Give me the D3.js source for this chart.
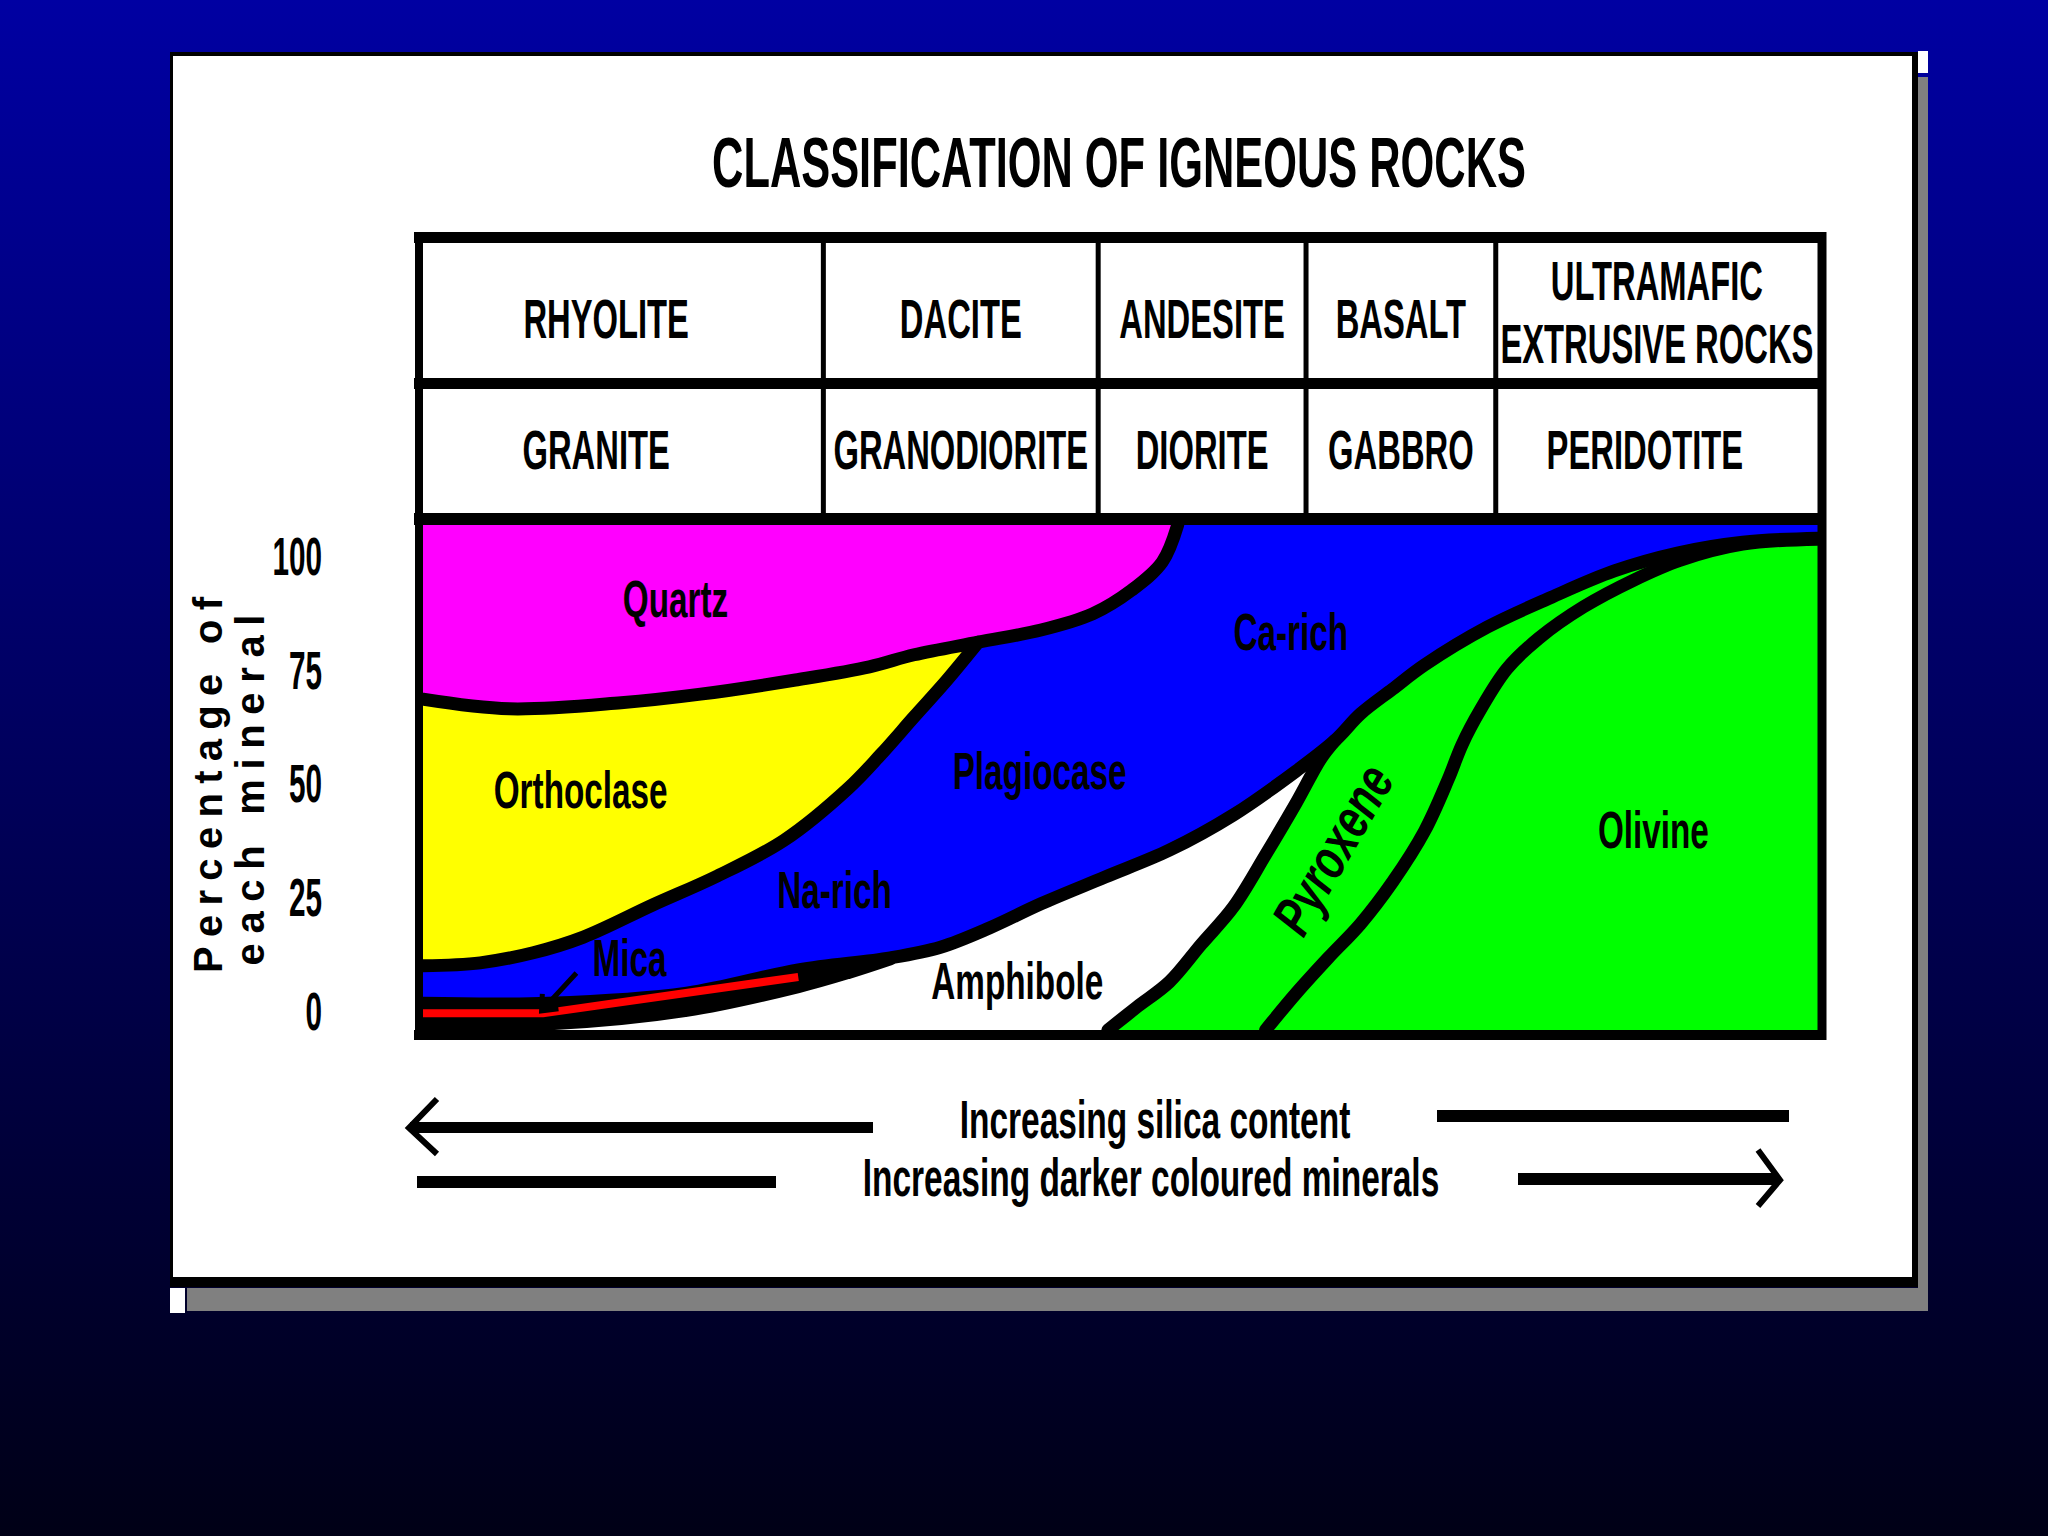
<!DOCTYPE html>
<html>
<head>
<meta charset="utf-8">
<script src="https://cdn.jsdelivr.net/npm/d3@7"></script>
<style>
  html, body { margin: 0; padding: 0; background: #000020; }
  svg { display: block; }
  text { font-family: "Liberation Sans", Arial, sans-serif; font-weight: bold; fill: #000; }
</style>
</head>
<body>
<svg id="chart" width="2048" height="1536"></svg>
<script>
// rock names, silica rich (left) to silica poor (right)
var extrusive = ["RHYOLITE", "DACITE", "ANDESITE", "BASALT", "ULTRAMAFIC|EXTRUSIVE ROCKS"];
var intrusive = ["GRANITE", "GRANODIORITE", "DIORITE", "GABBRO", "PERIDOTITE"];
// where one rock type ends and the next begins, along the composition axis (0-100)
var columnBreaks = [0, 28.7, 48.4, 63.3, 76.9, 100];
var yTicks = [0, 25, 50, 75, 100];

// mineral boundaries: [position along composition axis, cumulative percentage]
var quartzBase = [[0, 65.5], [6.2, 63.6], [14.2, 64.8], [19.9, 66.5], [26.7, 69.3], [32.0, 71.9],
    [35.2, 74.3], [39.8, 76.8], [44.3, 79.2], [48.0, 82.4], [50.8, 87.1], [53.0, 92.7], [54.1, 100]];
var orthoclaseBase = [[0, 12.7], [4.1, 13.3], [7.9, 15.3], [11.5, 18.4], [16.5, 24.8], [21.1, 30.5],
    [25.9, 37.6], [30.5, 47.9], [32.8, 54.5], [35.2, 62.0], [37.5, 69.1], [39.8, 76.8]];
var plagioclaseBase = [[0, 5.3], [9.0, 5.3], [18.9, 7.3], [26.9, 11.9], [33.5, 14.3], [37.1, 16.4],
    [40.6, 20.2], [44.3, 25.0], [48.9, 30.3], [53.5, 35.6], [58.1, 42.6], [62.6, 51.3], [65.4, 57.4],
    [67.2, 62.6], [69.5, 67.5], [71.8, 72.3], [76.3, 79.8], [80.9, 85.7], [85.4, 90.9], [90.0, 94.5],
    [94.6, 96.6], [100, 97.4]];
var micaBase = [[0, 1.2], [8.8, 1.2], [18.9, 3.9], [26.9, 8.6], [30.5, 11.4], [33.5, 14.1]];
var micaBand = [[0, 3.3], [8.6, 3.3], [26.9, 10.5]];
var amphiboleEdge = [[49.1, 0], [51.2, 4.6], [53.5, 9.5], [55.8, 17.0], [58.1, 24.4], [60.4, 34.7],
    [62.6, 45.0], [64.4, 53.9], [65.4, 57.4]];
var pyroxeneEdge = [[60.4, 0], [62.6, 7.3], [64.9, 14.3], [67.2, 21.0], [69.5, 29.3], [71.8, 39.4],
    [73.5, 49.7], [74.5, 56.6], [75.8, 63.4], [77.7, 71.5], [80.0, 77.6], [83.2, 83.8], [86.8, 89.1],
    [90.1, 93.0], [94.6, 96.2], [100, 97.2]];

var mineralLabels = [
    {name: "Quartz", at: [18.1, 81.8]},
    {name: "Orthoclase", at: [11.3, 44.0]},
    {name: "Na-rich", at: [29.5, 24.2]},
    {name: "Mica", at: [14.8, 10.7]},
    {name: "Plagiocase", at: [44.2, 47.7]},
    {name: "Ca-rich", at: [62.2, 75.2]},
    {name: "Amphibole", at: [42.6, 6.1]},
    {name: "Olivine", at: [88.2, 36.0]},
    {name: "Pyroxene", at: [65.2, 35.8], angle: -60}
];

var svg = d3.select("#chart");

// squash text sideways, the slide used a condensed face
function squeeze(sel, k) {
    sel.attr("transform", function (d) {
        var kk = typeof k === "function" ? k(d) : k;
        return (d3.select(this).attr("transform") || "") + " scale(" + kk + ",1)";
    });
    return sel;
}

function label(parent, px, py, size, txt) {
    return parent.append("text")
        .attr("transform", "translate(" + px + "," + py + ")")
        .attr("text-anchor", "middle")
        .style("font-size", size + "px")
        .text(txt);
}

// ---- slide background ----
var defs = svg.append("defs");
var bg = defs.append("linearGradient").attr("id", "bg")
    .attr("x1", 0).attr("y1", 0).attr("x2", 0).attr("y2", 1);
bg.append("stop").attr("offset", "0%").attr("stop-color", "#0000a2");
bg.append("stop").attr("offset", "100%").attr("stop-color", "#000016");
svg.append("rect").attr("width", 2048).attr("height", 1536).attr("fill", "url(#bg)");

// grey drop shadow + white panel
svg.append("rect").attr("x", 1918).attr("y", 77).attr("width", 10).attr("height", 1234).attr("fill", "#808080");
svg.append("rect").attr("x", 187).attr("y", 1288).attr("width", 1741).attr("height", 23).attr("fill", "#808080");
svg.append("rect").attr("x", 1918).attr("y", 51).attr("width", 10).attr("height", 22).attr("fill", "#fff");
svg.append("rect").attr("x", 170).attr("y", 1288).attr("width", 15).attr("height", 25).attr("fill", "#fff");
svg.append("rect").attr("x", 170).attr("y", 52).attr("width", 1748).attr("height", 1235).attr("fill", "#000");
svg.append("rect").attr("x", 173).attr("y", 56).attr("width", 1739).attr("height", 1221).attr("fill", "#fff");

squeeze(label(svg, 1119, 187, 70, "CLASSIFICATION OF IGNEOUS ROCKS"), 0.62);

// ---- scales ----
var x = d3.scaleLinear().domain([0, 100]).range([423, 1818]);
var y = d3.scaleLinear().domain([0, 100]).range([1030, 525]);
var yLabel = d3.scaleLinear().domain([0, 100]).range([1012, 557]);

// ---- rock name table ----
var table = svg.append("g");
var nudge = {RHYOLITE: -17, GRANITE: -27, PERIDOTITE: -12};

function rowText(names, baseline) {
    names.forEach(function (n, i) {
        var cx = (x(columnBreaks[i]) + x(columnBreaks[i + 1])) / 2 + (nudge[n] || 0);
        var lines = n.split("|");
        lines.forEach(function (line, j) {
            var by = lines.length > 1 ? baseline - 38 + j * 63 : baseline;
            squeeze(label(table, cx, by, 56, line), 0.585);
        });
    });
}
rowText(extrusive, 338);
rowText(intrusive, 469);

// column dividers
table.selectAll("line.col")
    .data(columnBreaks.slice(1, -1))
    .enter().append("line")
    .attr("x1", function (d) { return x(d); })
    .attr("x2", function (d) { return x(d); })
    .attr("y1", 237).attr("y2", 519)
    .attr("stroke", "#000").attr("stroke-width", 5);

// ---- mineral areas ----
var line = d3.line()
    .x(function (d) { return x(d[0]); })
    .y(function (d) { return y(d[1]); })
    .curve(d3.curveCatmullRom.alpha(0.5));

function outline() {
    var segs = Array.prototype.slice.call(arguments);
    return segs.map(function (s, i) {
        var p = line(s);
        return i === 0 ? p : "L" + p.slice(1);
    }).join("") + "Z";
}

defs.append("clipPath").attr("id", "plotClip")
    .append("rect")
    .attr("x", x(0)).attr("y", y(100))
    .attr("width", x(100) - x(0)).attr("height", y(0) - y(100));

var plot = svg.append("g").attr("clip-path", "url(#plotClip)");

// pyroxene and olivine fill the background
plot.append("rect")
    .attr("x", x(0)).attr("y", y(100))
    .attr("width", x(100) - x(0)).attr("height", y(0) - y(100))
    .attr("fill", "#00ff00");

var tipIndex = plagioclaseBase.findIndex(function (d) { return d[0] === 65.4; });
var micaEnd = plagioclaseBase.findIndex(function (d) { return d[0] === 33.5; });

// amphibole
plot.append("path")
    .attr("d", outline(plagioclaseBase.slice(0, tipIndex + 1),
        amphiboleEdge.slice().reverse(),
        [[amphiboleEdge[0][0], 0], [0, 0]]))
    .attr("fill", "#fff");

// plagioclase
plot.append("path")
    .attr("d", outline(plagioclaseBase, [[100, plagioclaseBase[plagioclaseBase.length - 1][1]], [100, 100], [0, 100]]))
    .attr("fill", "#0000ff");

// orthoclase
var oEnd = orthoclaseBase[orthoclaseBase.length - 1];
plot.append("path")
    .attr("d", outline(orthoclaseBase, [oEnd, [oEnd[0], 100], [0, 100]]))
    .attr("fill", "#ffff00");

// quartz
var qEnd = quartzBase[quartzBase.length - 1];
plot.append("path")
    .attr("d", outline(quartzBase, [qEnd, [0, 100]]))
    .attr("fill", "#ff00ff");

// dark band that carries the mica
plot.append("path")
    .attr("d", outline(plagioclaseBase.slice(0, micaEnd + 1), micaBase.slice().reverse()))
    .attr("fill", "#000");

// black boundary strokes
plot.selectAll("path.edge")
    .data([quartzBase, orthoclaseBase, plagioclaseBase, micaBase, amphiboleEdge, pyroxeneEdge])
    .enter().append("path")
    .attr("class", "edge")
    .attr("d", line)
    .attr("fill", "none")
    .attr("stroke", "#000")
    .attr("stroke-width", 13)
    .attr("stroke-linejoin", "round")
    .attr("stroke-linecap", "round");

// mica
plot.append("path")
    .attr("d", d3.line().x(function (d) { return x(d[0]); }).y(function (d) { return y(d[1]); })(micaBand))
    .attr("fill", "none")
    .attr("stroke", "#ff0000")
    .attr("stroke-width", 8);

// arrow from the Mica label down to the red band
var aFrom = [x(11.0), y(11.3)], aTo = [x(8.5), y(3.8)];
var ang = Math.atan2(aFrom[1] - aTo[1], aFrom[0] - aTo[0]);
var head = [ang - 0.7, ang + 0.7].map(function (a) {
    return [aTo[0] + 17 * Math.cos(a), aTo[1] + 17 * Math.sin(a)];
});
plot.append("path")
    .attr("d", "M" + aFrom + "L" + aTo + "M" + head[0] + "L" + aTo + "L" + head[1])
    .attr("fill", "none")
    .attr("stroke", "#000")
    .attr("stroke-width", 5);

// mineral names
plot.selectAll("text.mineral")
    .data(mineralLabels)
    .enter().append("text")
    .attr("class", "mineral")
    .attr("text-anchor", "middle")
    .attr("dy", function (d) { return d.angle ? "0.35em" : null; })
    .attr("transform", function (d) {
        return "translate(" + x(d.at[0]) + "," + y(d.at[1]) + ")" + (d.angle ? " rotate(" + d.angle + ")" : "");
    })
    .style("font-size", function (d) { return d.angle ? "56px" : "52px"; })
    .style("font-style", function (d) { return d.angle ? "italic" : null; })
    .text(function (d) { return d.name; })
    .call(squeeze, function (d) { return d.angle ? 0.73 : 0.64; });

// ---- frame of table + plot ----
var frame = svg.append("g").attr("stroke", "#000");
frame.append("line").attr("x1", 414).attr("x2", 1826).attr("y1", 237.5).attr("y2", 237.5).attr("stroke-width", 11);
frame.append("line").attr("x1", 414).attr("x2", 1826).attr("y1", 383.5).attr("y2", 383.5).attr("stroke-width", 11);
frame.append("line").attr("x1", 414).attr("x2", 1826).attr("y1", 519).attr("y2", 519).attr("stroke-width", 12);
frame.append("line").attr("x1", 414).attr("x2", 1826).attr("y1", 1035).attr("y2", 1035).attr("stroke-width", 10);
frame.append("line").attr("x1", 419).attr("x2", 419).attr("y1", 232).attr("y2", 1040).attr("stroke-width", 8);
frame.append("line").attr("x1", 1822).attr("x2", 1822).attr("y1", 232).attr("y2", 1040).attr("stroke-width", 9);

// ---- y axis ----
var yAxis = svg.append("g")
    .attr("transform", "translate(322,0)")
    .attr("color", "#000")
    .call(d3.axisLeft(yLabel).tickValues(yTicks).tickSize(0).tickPadding(0));
yAxis.select(".domain").remove();
yAxis.selectAll("text")
    .style("font-size", "54px")
    .call(squeeze, 0.55);

svg.append("text")
    .attr("transform", "translate(222,785) rotate(-90)")
    .attr("text-anchor", "middle")
    .style("font-size", "40px")
    .attr("textLength", 376).attr("lengthAdjust", "spacing")
    .text("Percentage of");
svg.append("text")
    .attr("transform", "translate(264,790) rotate(-90)")
    .attr("text-anchor", "middle")
    .style("font-size", "40px")
    .attr("textLength", 351).attr("lengthAdjust", "spacing")
    .text("each mineral");

// ---- trend arrows ----
squeeze(label(svg, 1155, 1138, 54, "Increasing silica content"), 0.62);
squeeze(label(svg, 1151, 1196, 54, "Increasing darker coloured minerals"), 0.62);

var arrows = svg.append("g").attr("stroke", "#000").attr("fill", "none");
arrows.append("line").attr("x1", 410).attr("x2", 873).attr("y1", 1127.5).attr("y2", 1127.5).attr("stroke-width", 11);
arrows.append("path").attr("d", "M437,1099L409,1128L437,1154").attr("stroke-width", 6);
arrows.append("line").attr("x1", 1437).attr("x2", 1789).attr("y1", 1116).attr("y2", 1116).attr("stroke-width", 12);
arrows.append("line").attr("x1", 417).attr("x2", 776).attr("y1", 1182).attr("y2", 1182).attr("stroke-width", 12);
arrows.append("line").attr("x1", 1518).attr("x2", 1777).attr("y1", 1179).attr("y2", 1179).attr("stroke-width", 12);
arrows.append("path").attr("d", "M1758,1150L1780,1180L1758,1206").attr("stroke-width", 6);
</script>
</body>
</html>
